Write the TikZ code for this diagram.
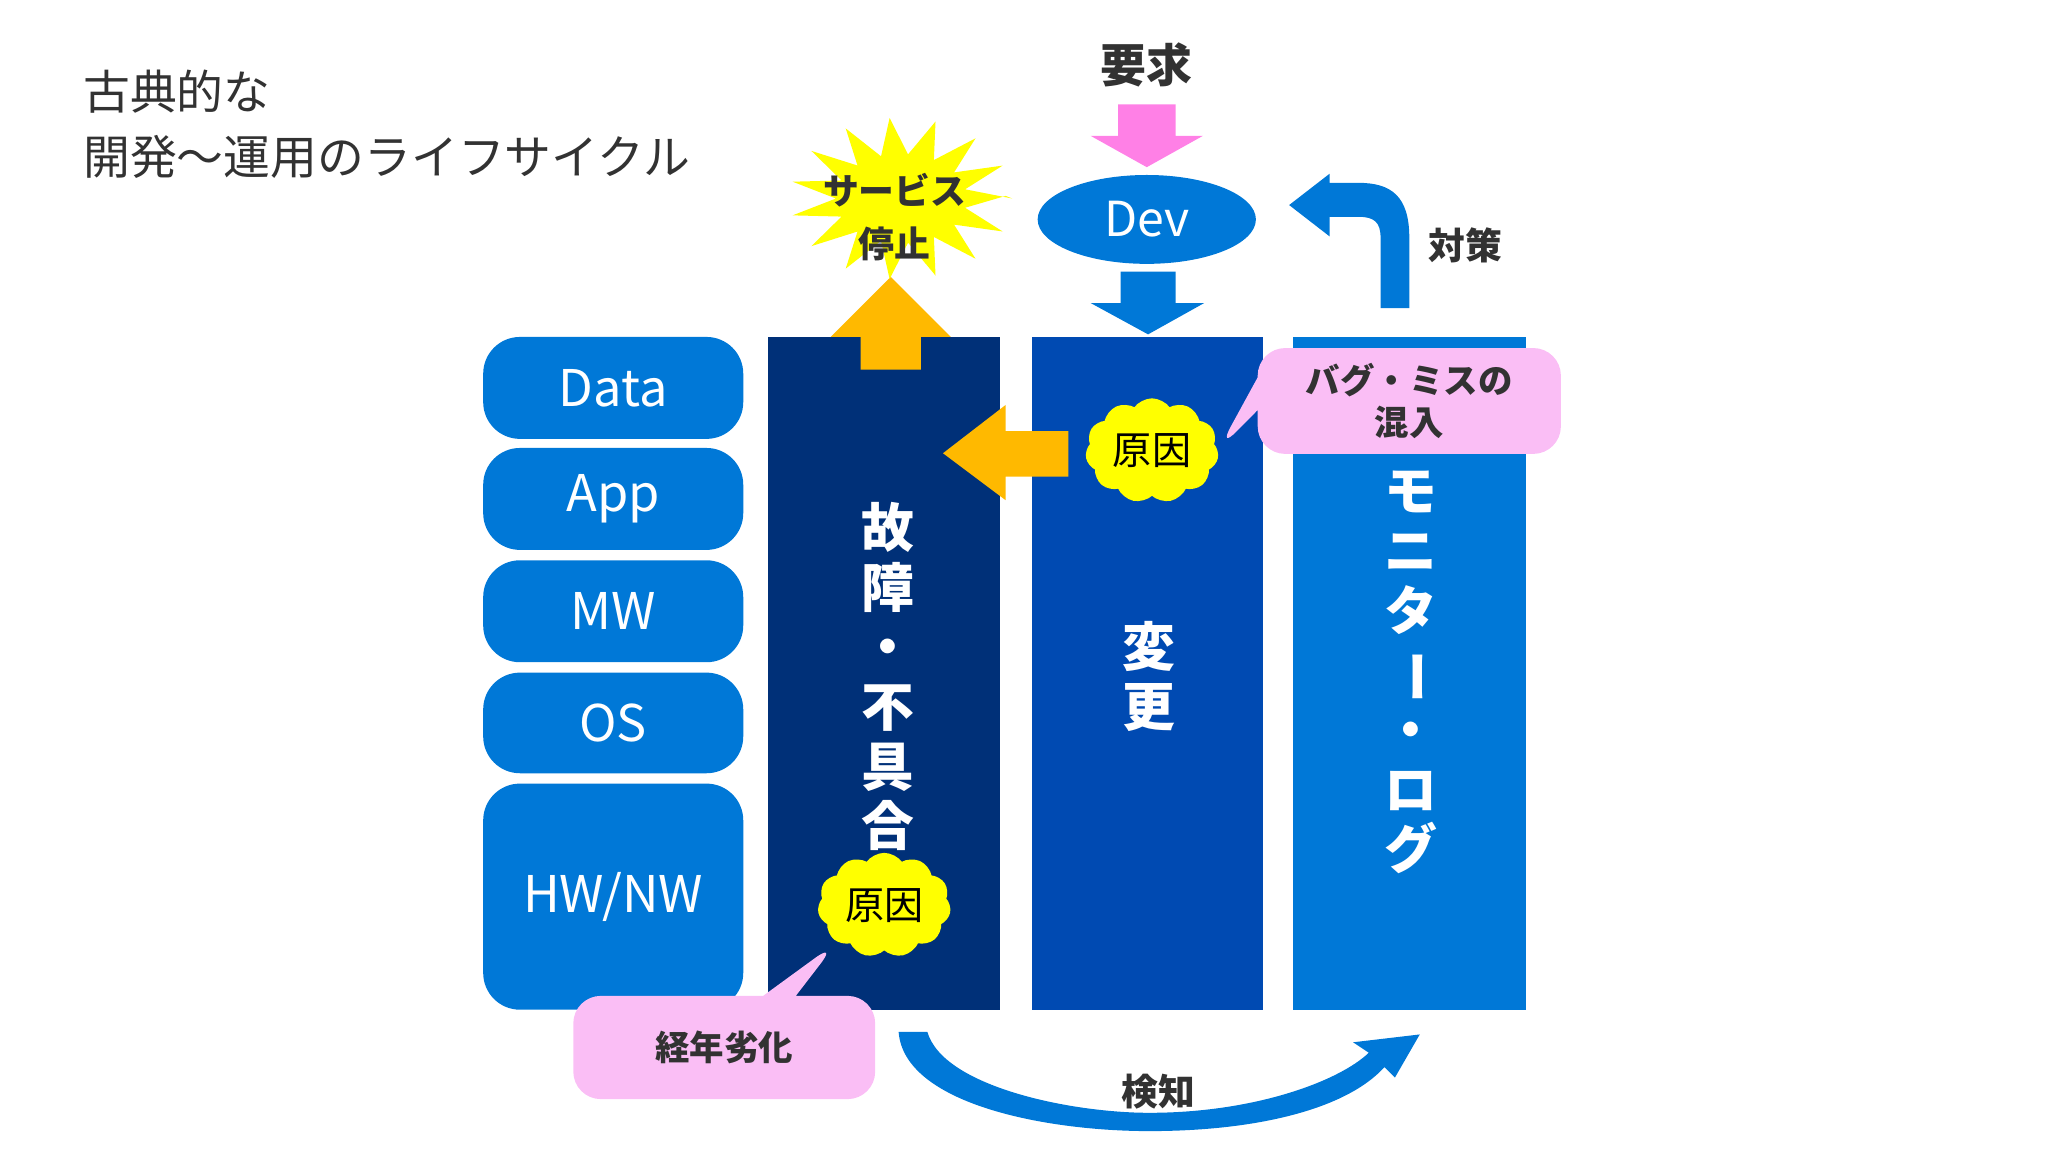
\documentclass[tikz,border=0pt]{standalone}
\usepackage{fontspec}
\setmainfont{Noto Sans CJK JP}
\usetikzlibrary{shapes.symbols,shapes.callouts,shapes.geometric}
\definecolor{blueA}{RGB}{0,120,215}
\definecolor{blueB}{RGB}{0,74,178}
\definecolor{blueC}{RGB}{0,48,120}
\definecolor{orangeA}{RGB}{255,185,0}
\definecolor{pinkA}{RGB}{250,190,245}
\definecolor{pinkB}{RGB}{255,128,230}
\definecolor{yellowA}{RGB}{255,255,0}
\definecolor{textA}{RGB}{50,50,50}
\tikzset{
  layer/.style={fill=blueA,rounded corners=8pt,text=white,inner sep=0,minimum width=1.99cm,
    font=\fontsize{11}{12}\selectfont},
  col/.style={inner sep=0,text=white,font=\fontsize{11.5}{13}\selectfont\bfseries,align=center},
  cause/.style={cloud,cloud puffs=11,cloud puff arc=110,aspect=1.4,fill=yellowA,draw=yellowA,
    font=\fontsize{8.5}{10}\selectfont,text=black,inner sep=1pt},
  note/.style={rectangle callout,fill=pinkA,rounded corners=6pt,text=textA,
    font=\fontsize{7.5}{9}\selectfont\bfseries,align=center,inner sep=0},
  lbl/.style={text=textA,font=\fontsize{8}{9.5}\selectfont\bfseries}
}
\newcommand{\vbar}{\rotatebox[origin=c]{-90}{ー}}
\begin{document}
\begin{tikzpicture}[x=0.01cm,y=-0.01cm]
\useasboundingbox (0,0) rectangle (1568,882);
 % title
  \node (title) [anchor=west,text=textA,align=left,inner sep=0,font=\fontsize{10.2}{14.2}\selectfont] at (63,95)
    {古典的な\\開発～運用のライフサイクル};
 % layers
  \node (data) [layer,minimum height=0.78cm] at (469.5,297) {Data};
  \node (app) [layer,minimum height=0.78cm] at (469.5,382) {App};
  \node (mw) [layer,minimum height=0.78cm] at (469.5,468) {MW};
  \node (os) [layer,minimum height=0.77cm] at (469.5,553.5) {OS};
  \node (hw) [layer,minimum height=1.73cm] at (469.5,686.5) {HW/NW};
 % columns
  \fill[blueC] (588,258) rectangle (766,773);
  \fill[blueB] (790,258) rectangle (967,773);
  \fill[blueA] (990,258) rectangle (1168,773);
  \node (fail) [col] at (680,518) {故\\障\\・\\不\\具\\合};
  \node (chg) [col] at (880,518) {変\\更};
  \node (mon) [col] at (1080,515) {モ\\ニ\\タ\\\vbar\\・\\ロ\\グ};
 % arrows
  \fill[pinkB] (856,80) -- (900,80) -- (900,104) -- (921,104) -- (878,128) -- (835,104) -- (856,104) -- cycle;
  \fill[blueA] (858,208) -- (900,208) -- (900,232) -- (922,232) -- (879,256) -- (835,232) -- (858,232) -- cycle;
  \fill[orangeA] (659,283) -- (705,283) -- (705,258) -- (728,258) -- (682,212) -- (636,258) -- (659,258) -- cycle;
  \fill[orangeA] (818,330) -- (770,330) -- (770,310) -- (722,347) -- (770,383) -- (770,365) -- (818,365) -- cycle;
  \fill[blueA] (1057,236) -- (1079,236) -- (1079,182) .. controls (1079,150) and (1065,140) .. (1040,140)
    -- (1018,140) -- (1018,133) -- (987,157) -- (1018,181) -- (1018,166) -- (1040,166)
    .. controls (1052,166) and (1057,170) .. (1057,182) -- cycle;
  \fill[blueA] (688,790) -- (710,790) .. controls (722,832) and (820,852) .. (880,852)
    .. controls (960,852) and (1025,828) .. (1048,806) -- (1036,798) -- (1087,792) -- (1068,825) -- (1060,817)
    .. controls (1030,850) and (960,866) .. (880,866)
    .. controls (800,866) and (692,845) .. (688,790) -- cycle;
 % star
  \fill[yellowA] (770,150) \foreach \a [evaluate=\a as \b using \a+12] in {0,24,...,336}
    { -- ({690+85*cos(\a)},{152-62*sin(\a)}) -- ({690+50*cos(\b)},{152-34*sin(\b)}) } -- cycle;
 % top items
  \node (req) [lbl,font=\fontsize{10}{12}\selectfont\bfseries] at (878,50) {要求};
  \node (dev) [ellipse,fill=blueA,text=white,minimum width=1.67cm,minimum height=0.68cm,inner sep=0,
    font=\fontsize{10.5}{12}\selectfont] at (878,168) {Dev};
  \node (stop) [align=center,text=textA,inner sep=0,
    font=\fontsize{7.8}{11.5}\selectfont\bfseries] at (685,166) {サービス\\停止};
  \node (fix) [lbl] at (1122,188) {対策};
  \node (detect) [lbl] at (887,836) {検知};
 % causes
  \node (cause1) [cause] at (882,345) {原因};
  \node (cause2) [cause] at (677,693) {原因};
  \node (bug) [note,minimum width=2.32cm,minimum height=0.81cm,callout absolute pointer=(cause1.east)] at (1079,307)
    {バグ・ミスの\\混入};
  \node (age) [note,minimum width=2.31cm,minimum height=0.79cm,callout absolute pointer=(cause2.south west)] at (554.5,802)
    {経年劣化};
\end{tikzpicture}
\end{document}
